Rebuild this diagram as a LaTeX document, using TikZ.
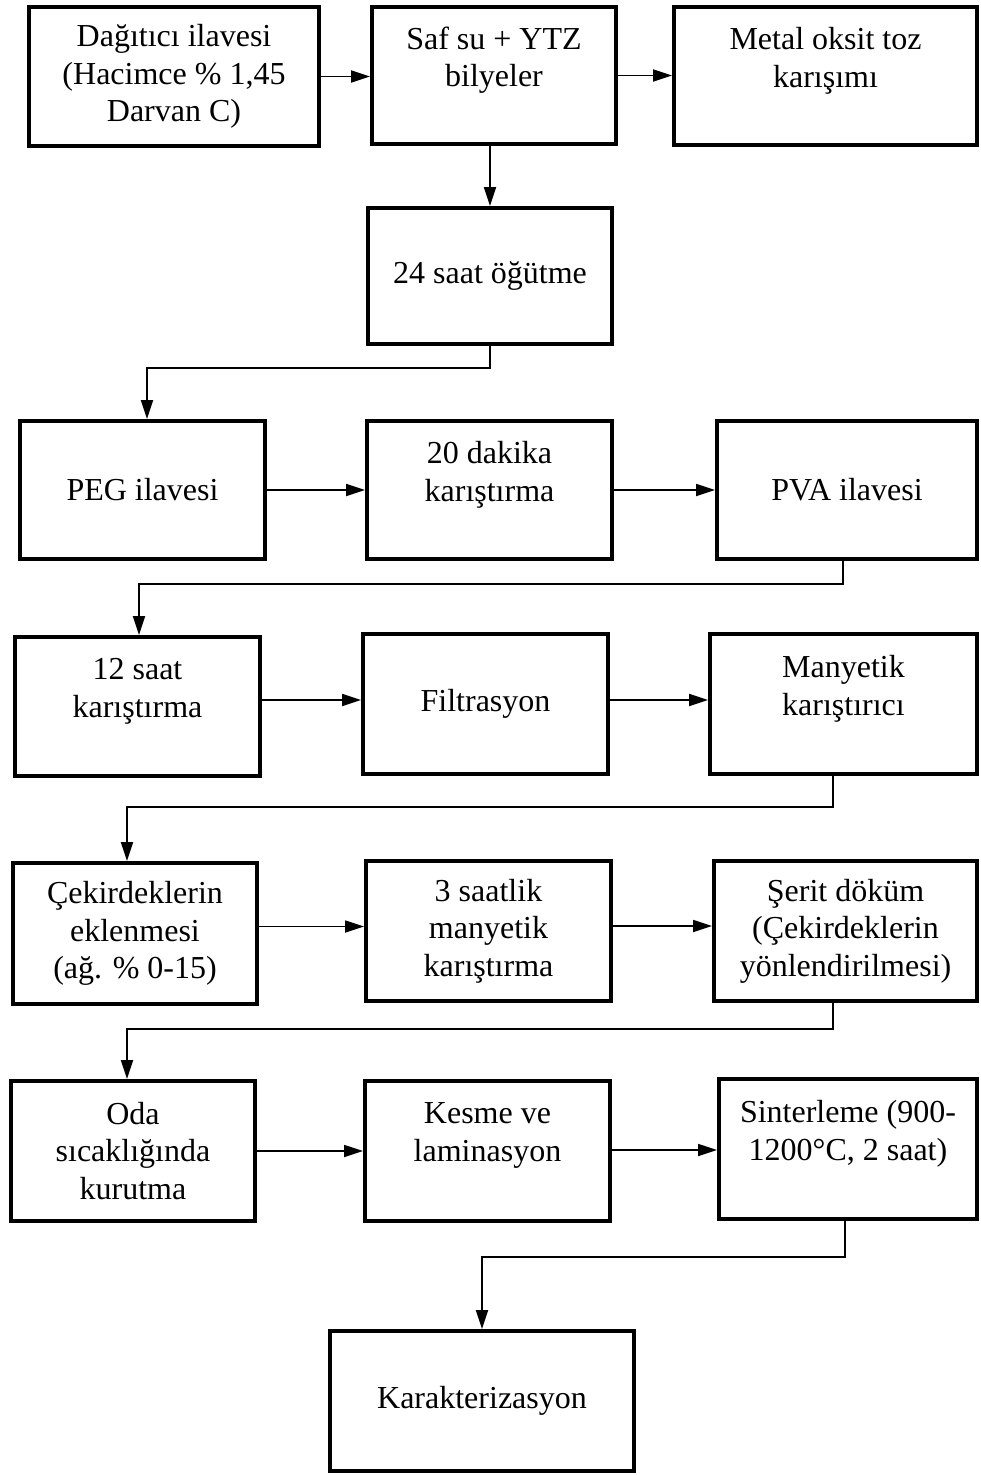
\documentclass[tikz,border=0pt]{standalone}
\usepackage{fontspec}
\setmainfont{Liberation Serif}
\usetikzlibrary{arrows.meta}
\begin{document}
\begin{tikzpicture}[x=1pt,y=-1pt,
  box/.style={draw,line width=4pt,align=center,inner sep=0pt,
    font=\fontsize{32}{37.5}\selectfont},
  arr/.style={line width=1.8pt,-{Triangle[length=19pt,width=12pt]}},
  link/.style={line width=1.8pt}]
\useasboundingbox (0,0) rectangle (980,1475);
% row 1
\node[box,minimum width=290pt,minimum height=139pt] (a) at (174,76.5) {Dağıtıcı ilavesi\\(Hacimce \% 1,45\\Darvan C)};
\node[box,minimum width=244pt,minimum height=137pt] (b) at (494,75.5) {Saf su + YTZ\\bilyeler\\~};
\node[box,minimum width=303pt,minimum height=138pt] (c) at (825.5,76) {Metal oksit toz\\karışımı\\~};
% row 2
\node[box,minimum width=244pt,minimum height=136pt] (d) at (490,276) {24 saat öğütme};
% row 3
\node[box,minimum width=245pt,minimum height=138pt] (e) at (142.5,490) {PEG ilavesi};
\node[box,minimum width=245pt,minimum height=138pt] (f) at (489.5,490) {20 dakika\\karıştırma\\~};
\node[box,minimum width=260pt,minimum height=138pt] (g) at (847,490) {PVA ilavesi};
% row 4
\node[box,minimum width=245pt,minimum height=139pt] (h) at (137.5,706.5) {12 saat\\karıştırma\\~};
\node[box,minimum width=245pt,minimum height=140pt] (i) at (485.5,704) {Filtrasyon};
\node[box,minimum width=267pt,minimum height=140pt] (j) at (843.5,704) {Manyetik\\karıştırıcı\\~};
% row 5
\node[box,minimum width=244pt,minimum height=141pt] (k) at (135,933.5) {Çekirdeklerin\\eklenmesi\\(ağ. \% 0-15)};
\node[box,minimum width=245pt,minimum height=140pt] (l) at (488.5,931) {3 saatlik\\manyetik\\karıştırma};
\node[box,minimum width=263pt,minimum height=140pt] (m) at (845.5,931) {Şerit döküm\\(Çekirdeklerin\\yönlendirilmesi)};
% row 6
\node[box,minimum width=244pt,minimum height=140pt] (n) at (133,1151) {Oda\\sıcaklığında\\kurutma};
\node[box,minimum width=245pt,minimum height=140pt] (o) at (487.5,1151) {Kesme ve\\laminasyon\\~};
\node[box,minimum width=258pt,minimum height=140pt] (p) at (848,1149) {Sinterleme (900-\\1200°C, 2 saat)\\~};
% row 7
\node[box,minimum width=304pt,minimum height=140pt] (q) at (482,1401) {Karakterizasyon};
% connectors
\draw[arr] (a.east) -- (a.east -| b.west);
\draw[arr] (b.east) -- (b.east -| c.west);
\draw[arr] (b.south -| d.north) -- (d.north);
\draw[arr] (d.south) -- ++(0,22) -| ([xshift=4.5pt]e.north);
\draw[arr] (e.east) -- (e.east -| f.west);
\draw[arr] (f.east) -- (f.east -| g.west);
\draw[arr] ([xshift=-4pt]g.south) -- ++(0,23) -| ([xshift=1.5pt]h.north);
\draw[arr] ([yshift=6.5pt]h.east) -- ([yshift=6.5pt]h.east -| i.west);
\draw[arr] ([yshift=4pt]i.east) -- ([yshift=4pt]i.east -| j.west);
\draw[arr] ([xshift=-10.5pt]j.south) -- ++(0,31) -| ([xshift=-8pt]k.north);
\draw[arr] ([yshift=7pt]k.east) -- ([yshift=7pt]k.east -| l.west);
\draw[arr] ([yshift=5pt]l.east) -- ([yshift=5pt]l.east -| m.west);
\draw[arr] ([xshift=-12.5pt]m.south) -- ++(0,26) -| ([xshift=-6pt]n.north);
\draw[arr] (n.east) -- (n.east -| o.west);
\draw[arr] ([yshift=1pt]o.east) -- ([yshift=1pt]o.east -| p.west);
\draw[arr] ([xshift=-3pt]p.south) -- ++(0,36) -| (q.north);
\end{tikzpicture}
\end{document}
